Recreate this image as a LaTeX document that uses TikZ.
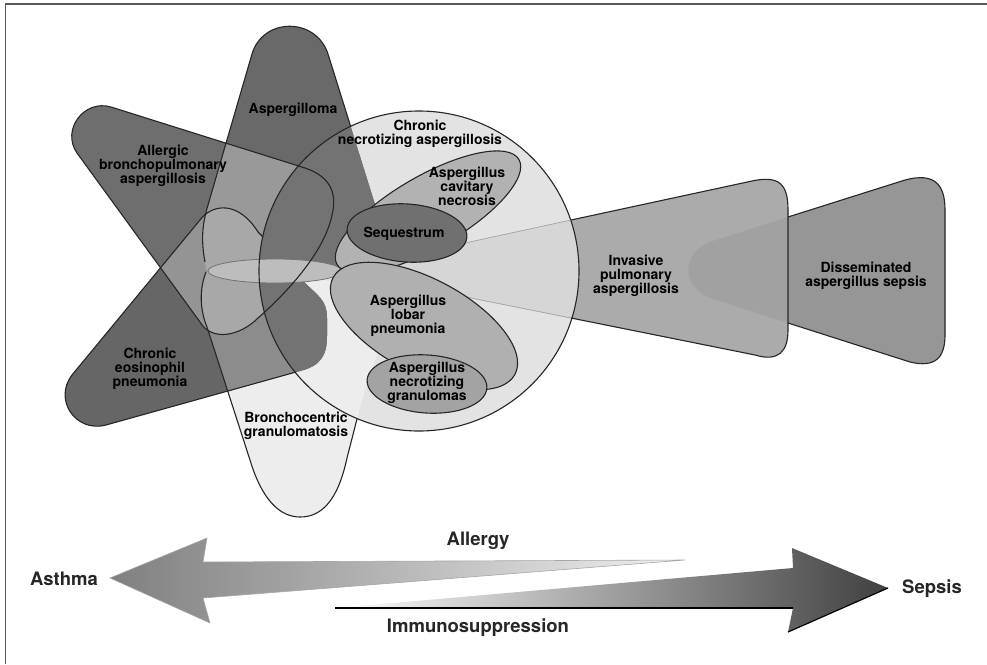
\documentclass[tikz,border=0pt]{standalone}
\usepackage{fontspec}
\setmainfont{TeX Gyre Heros}

\definecolor{aspgray}{gray}{0.41}
\definecolor{abpagray}{gray}{0.43}
\definecolor{eosgray}{gray}{0.40}
\definecolor{mixgray}{gray}{0.60}
\definecolor{pairgray}{gray}{0.58}
\definecolor{eosbron}{gray}{0.55}
\definecolor{triplegray}{gray}{0.66}
\definecolor{circgray}{gray}{0.89}
\definecolor{brongray}{gray}{0.93}
\definecolor{incirc}{gray}{0.45}
\definecolor{bandgray}{gray}{0.74}
\definecolor{invgray}{gray}{0.67}
\definecolor{disgray}{gray}{0.59}
\definecolor{invdis}{gray}{0.63}
\definecolor{conegray}{gray}{0.84}
\definecolor{cavgray}{gray}{0.70}
\definecolor{seqgray}{gray}{0.44}
\definecolor{lobgray}{gray}{0.69}
\definecolor{grangray}{gray}{0.64}

% lobe outlines (pixel coordinates, y downwards)
\def\aspPath{(206,270) -- (205,262) .. controls (201,240) and (202,225) .. (208,205) -- (252,54) .. controls (263,17) and (316,17) .. (328,54) -- (393,262) -- (393,270) -- cycle}
\def\abpaPath{(111,107) -- (305,168) .. controls (332,177) and (337,195) .. (332,215) .. controls (325,250) and (290,290) .. (258,318) .. controls (240,336) and (212,342) .. (200,322) -- (77,153) .. controls (61,130) and (84,99) .. (111,107) -- cycle}
\def\eosPath{(72,375) -- (200,220) .. controls (212,204) and (238,200) .. (258,232) -- (303,281) .. controls (318,296) and (327,300) .. (327,318) -- (327,336) .. controls (327,356) and (320,366) .. (300,371) -- (106,425) .. controls (76,433) and (53,400) .. (72,375) -- cycle}
\def\bronPath{(206,272) .. controls (199,290) and (200,310) .. (207,327) -- (250,460) .. controls (262,500) and (280,517) .. (300,517) .. controls (322,517) and (338,500) .. (347,458) -- (362,400) -- (385,330) -- (392,285) -- cycle}
\def\invPath{(336,271) -- (752,181) .. controls (780,175) and (788,185) .. (788,210) -- (788,330) .. controls (788,352) and (778,362) .. (755,355) -- cycle}
\def\disPath{(713,241) -- (905,180) .. controls (935,172) and (945,185) .. (945,210) -- (945,335) .. controls (945,358) and (935,368) .. (910,362) -- (713,299) .. controls (680,288) and (680,252) .. (713,241) -- cycle}
\def\necCircle{(419,271) circle [radius=160]}

\tikzset{
  outline/.style={draw=black!85, line width=1.1pt},
  faint/.style={draw=black!35, line width=0.7pt},
  lobetext/.style={font=\fontsize{14}{14}\selectfont\bfseries, align=center, inner sep=0pt},
  axistext/.style={font=\fontsize{18.5}{18.5}\selectfont\bfseries, text=black!85, inner sep=0pt}
}

\begin{document}
\begin{tikzpicture}[x=1pt,y=-1pt]
\useasboundingbox (0,0) rectangle (987,664);

% fills of the star
\fill[circgray] \necCircle;
\fill[brongray] \bronPath;
\fill[eosgray] \eosPath;
\fill[abpagray] \abpaPath;
\fill[aspgray] \aspPath;

% overlaps
\begin{scope}
  \clip \aspPath;
  \fill[mixgray] \abpaPath;
  \fill[pairgray] \eosPath;
\end{scope}
\begin{scope}
  \clip \abpaPath;
  \fill[pairgray] \eosPath;
\end{scope}
\begin{scope}
  \clip \eosPath;
  \fill[eosbron] \bronPath;
\end{scope}
\begin{scope}
  \clip \aspPath; \clip \abpaPath;
  \fill[triplegray] \eosPath;
\end{scope}
\begin{scope}
  \clip \abpaPath; \clip \bronPath;
  \fill[triplegray] \eosPath;
\end{scope}
\begin{scope}
  \clip \necCircle;
  \fill[incirc] \aspPath;
  \fill[incirc] \eosPath;
\end{scope}

% band at the hub
\filldraw[fill=bandgray, draw=black!55, line width=0.8pt] (275,271) ellipse [x radius=67, y radius=12];

% invasive and disseminated
\fill[disgray] \disPath;
\fill[invgray] \invPath;
\begin{scope}
  \clip \invPath;
  \fill[invdis] \disPath;
\end{scope}
\begin{scope}
  \clip \necCircle;
  \fill[conegray] \invPath;
\end{scope}

% outlines
\draw[outline] \abpaPath;
\draw[outline] (205,262) .. controls (201,240) and (202,225) .. (208,205) -- (252,54) .. controls (263,17) and (316,17) .. (328,54) -- (350.5,126);
\draw[outline] (296,372) -- (106,425) .. controls (76,433) and (53,400) .. (72,375) -- (200,220) .. controls (212,204) and (238,200) .. (258,232) -- (263,237);
\draw[outline] (206,272) .. controls (199,290) and (200,310) .. (207,327) -- (250,460) .. controls (262,500) and (280,517) .. (300,517) .. controls (322,517) and (338,500) .. (347,458) -- (357,419);
\draw[outline] \necCircle;

\draw[faint] (336,271) -- (571,220) (336,271) -- (571,318);
\draw[faint] (788,323) -- (713,299) .. controls (680,288) and (680,252) .. (713,241) -- (788,217);
\draw[outline] (571,220) -- (752,181) .. controls (780,175) and (788,185) .. (788,210) -- (788,330) .. controls (788,352) and (778,362) .. (755,355) -- (571,318);
\draw[outline] (788,217) -- (905,180) .. controls (935,172) and (945,185) .. (945,210) -- (945,335) .. controls (945,358) and (935,368) .. (910,362) -- (788,323);

% ellipses inside the circle
\filldraw[fill=cavgray, outline, rotate around={30:(428,212)}] (428,212) ellipse [x radius=105, y radius=36];
\filldraw[fill=seqgray, outline, rotate around={-4:(407,233)}] (407,233) ellipse [x radius=60, y radius=29];
\filldraw[fill=lobgray, outline, rotate around={-28:(424,326)}] (424,326) ellipse [x radius=103, y radius=47];
\filldraw[fill=grangray, outline, rotate around={-4:(427,384)}] (427,384) ellipse [x radius=60, y radius=29];

% arrows
\shade[left color=black!50, right color=black!6, draw=black!35, line width=0.6pt]
  (110,578) -- (207,538) -- (203,562) -- (685,560) -- (203,598) -- (210,623) -- cycle;
\shade[left color=white, right color=black!75]
  (335,608) -- (793,568) -- (792,548) -- (888,588) -- (788,632) -- (793,608) -- cycle;
\draw[line width=1.8pt] (335,608) -- (793,608);
\draw[line width=1.2pt] (788,632) -- (888,588);

% labels
\node[lobetext] (aspergilloma) at (293,110) {Aspergilloma};
\node[lobetext] (abpa) at (163,166) {Allergic\\bronchopulmonary\\aspergillosis};
\node[lobetext] (chronicnec) at (420,134) {Chronic\\necrotizing aspergillosis};
\node[lobetext] (cavitary) at (467,186) {Aspergillus\\cavitary\\necrosis};
\node[lobetext] (sequestrum) at (404,234) {Sequestrum};
\node[lobetext] (lobar) at (408,316) {Aspergillus\\lobar\\pneumonia};
\node[lobetext] (granulomas) at (427,383) {Aspergillus\\necrotizing\\granulomas};
\node[lobetext] (invasive) at (636,276) {Invasive\\pulmonary\\aspergillosis};
\node[lobetext] (disseminated) at (866,276) {Disseminated\\aspergillus sepsis};
\node[lobetext] (eosinophil) at (150,369) {Chronic\\eosinophil\\pneumonia};
\node[lobetext] (broncho) at (296,426) {Bronchocentric\\granulomatosis};

\node[axistext] (asthma) at (64,579) {Asthma};
\node[axistext] (sepsis) at (932,589) {Sepsis};
\node[axistext] (allergy) at (478,541) {Allergy};
\node[axistext] (immuno) at (478,628) {Immunosuppression};

% frame
\draw[black!65, line width=1.6pt] (5.5,664) -- (5.5,3.7) -- (987,3.7);
\end{tikzpicture}
\end{document}
